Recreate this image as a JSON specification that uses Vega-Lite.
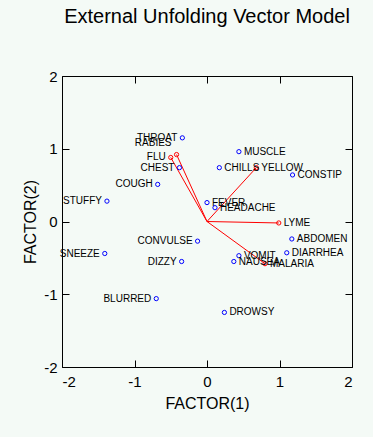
{
  "$schema": "https://vega.github.io/schema/vega-lite/v6.json",
  "width": 290,
  "height": 291,
  "autosize": {"type": "none"},
  "padding": {"left": 62, "top": 76, "right": 21, "bottom": 70},
  "background": "#f4faf6",
  "config": {
    "view": {"stroke": "black", "strokeWidth": 1},
    "font": "Liberation Sans",
    "axis": {
      "grid": false,
      "domain": false,
      "tickColor": "black",
      "labelColor": "black",
      "titleColor": "black",
      "labelFont": "Liberation Sans",
      "titleFont": "Liberation Sans",
      "labelFontSize": 15,
      "titleFontSize": 16,
      "titleFontWeight": "normal"
    }
  },
  "title": {
    "text": "External Unfolding Vector Model",
    "font": "Liberation Sans",
    "fontSize": 20,
    "fontWeight": "normal",
    "color": "black",
    "anchor": "middle",
    "baseline": "alphabetic",
    "offset": 26
  },
  "data": {
    "values": [
      {"name": "THROAT", "x": -0.34, "y": 1.15, "type": "symptom"},
      {"name": "CHEST", "x": -0.38, "y": 0.74, "type": "symptom"},
      {"name": "COUGH", "x": -0.68, "y": 0.51, "type": "symptom"},
      {"name": "STUFFY", "x": -1.38, "y": 0.28, "type": "symptom"},
      {"name": "FEVER", "x": 0.0, "y": 0.26, "type": "symptom"},
      {"name": "MUSCLE", "x": 0.44, "y": 0.96, "type": "symptom"},
      {"name": "CHILLS", "x": 0.17, "y": 0.74, "type": "symptom"},
      {"name": "CONSTIP", "x": 1.18, "y": 0.64, "type": "symptom"},
      {"name": "HEADACHE", "x": 0.11, "y": 0.19, "type": "symptom"},
      {"name": "CONVULSE", "x": -0.13, "y": -0.27, "type": "symptom"},
      {"name": "SNEEZE", "x": -1.41, "y": -0.44, "type": "symptom"},
      {"name": "DIZZY", "x": -0.35, "y": -0.55, "type": "symptom"},
      {"name": "BLURRED", "x": -0.7, "y": -1.06, "type": "symptom"},
      {"name": "ABDOMEN", "x": 1.17, "y": -0.24, "type": "symptom"},
      {"name": "DIARRHEA", "x": 1.1, "y": -0.43, "type": "symptom"},
      {"name": "VOMIT", "x": 0.44, "y": -0.47, "type": "symptom"},
      {"name": "NAUSEA", "x": 0.37, "y": -0.55, "type": "symptom"},
      {"name": "DROWSY", "x": 0.24, "y": -1.25, "type": "symptom"},
      {"name": "RABIES", "x": -0.42, "y": 0.92, "type": "disease"},
      {"name": "FLU", "x": -0.5, "y": 0.88, "type": "disease"},
      {"name": "YELLOW", "x": 0.68, "y": 0.74, "type": "disease"},
      {"name": "LYME", "x": 0.99, "y": -0.02, "type": "disease"},
      {"name": "MALARIA", "x": 0.8, "y": -0.58, "type": "disease"}
    ]
  },
  "layer": [
    {
      "transform": [{"filter": "datum.type == 'disease'"}],
      "mark": {"type": "rule", "color": "#ff0000", "strokeWidth": 1},
      "encoding": {
        "x": {
          "field": "x", "type": "quantitative",
          "scale": {"domain": [-2, 2], "nice": false, "zero": false},
          "axis": {"orient": "bottom", "values": [-2, -1, 0, 1, 2], "labelExpr": "datum.value < 0 ? '-' + abs(datum.value) : '' + datum.value", "tickSize": -7, "labelPadding": 14, "title": "FACTOR(1)", "titlePadding": 6}
        },
        "y": {
          "field": "y", "type": "quantitative",
          "scale": {"domain": [-2, 2], "nice": false, "zero": false},
          "axis": {"orient": "left", "values": [-2, -1, 0, 1, 2], "labelExpr": "datum.value < 0 ? '-' + abs(datum.value) : '' + datum.value", "tickSize": -7, "labelPadding": 12, "title": "FACTOR(2)", "titlePadding": 5}
        },
        "x2": {"datum": 0},
        "y2": {"datum": 0}
      }
    },
    {
      "mark": {"type": "point", "opacity": 0},
      "encoding": {
        "x": {"field": "x", "type": "quantitative", "axis": {"orient": "top", "values": [-2, -1, 0, 1, 2], "labels": false, "tickSize": -7, "title": null}},
        "y": {"field": "y", "type": "quantitative", "axis": {"orient": "right", "values": [-2, -1, 0, 1, 2], "labels": false, "tickSize": -7, "title": null}}
      }
    },
    {
      "transform": [{"filter": "datum.type == 'symptom'"}],
      "mark": {"type": "point", "shape": "circle", "filled": false, "color": "#0000ff", "strokeWidth": 1, "size": 18, "opacity": 1},
      "encoding": {
        "x": {"field": "x", "type": "quantitative", "axis": null},
        "y": {"field": "y", "type": "quantitative", "axis": null}
      }
    },
    {
      "transform": [{"filter": "datum.type == 'disease'"}],
      "mark": {"type": "point", "shape": "circle", "filled": false, "color": "#ff0000", "strokeWidth": 1, "size": 18, "opacity": 1},
      "encoding": {
        "x": {"field": "x", "type": "quantitative", "axis": null},
        "y": {"field": "y", "type": "quantitative", "axis": null}
      }
    },
    {
      "transform": [{"filter": "datum.x < 0 && datum.name != 'RABIES'"}],
      "mark": {"type": "text", "align": "right", "baseline": "middle", "dx": -5, "fontSize": 10, "font": "Liberation Sans", "color": "black"},
      "encoding": {
        "x": {"field": "x", "type": "quantitative", "axis": null},
        "y": {"field": "y", "type": "quantitative", "axis": null},
        "text": {"field": "name"}
      }
    },
    {
      "transform": [{"filter": "datum.name == 'RABIES'"}],
      "mark": {"type": "text", "align": "right", "baseline": "middle", "dx": -5, "dy": -12, "fontSize": 10, "font": "Liberation Sans", "color": "black"},
      "encoding": {
        "x": {"field": "x", "type": "quantitative", "axis": null},
        "y": {"field": "y", "type": "quantitative", "axis": null},
        "text": {"field": "name"}
      }
    },
    {
      "transform": [{"filter": "datum.x >= 0"}],
      "mark": {"type": "text", "align": "left", "baseline": "middle", "dx": 5, "fontSize": 10, "font": "Liberation Sans", "color": "black"},
      "encoding": {
        "x": {"field": "x", "type": "quantitative", "axis": null},
        "y": {"field": "y", "type": "quantitative", "axis": null},
        "text": {"field": "name"}
      }
    }
  ],
  "resolve": {"axis": {"x": "independent", "y": "independent"}}
}
